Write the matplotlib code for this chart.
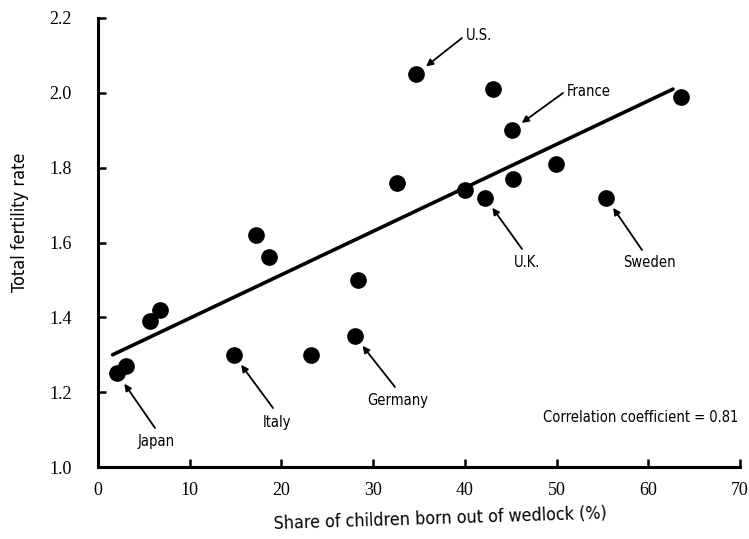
import matplotlib
matplotlib.use("Agg")
import matplotlib.pyplot as plt

# Data
share_out_of_wedlock = [2.1, 3.1, 5.7, 6.8, 14.8, 17.2, 18.6, 23.2, 28.0, 28.4,
                        32.6, 34.7, 40.0, 42.2, 43.1, 45.1, 45.3, 49.9, 55.4, 63.6]
fertility_rate = [1.25, 1.27, 1.39, 1.42, 1.30, 1.62, 1.56, 1.30, 1.35, 1.50,
                  1.76, 2.05, 1.74, 1.72, 2.01, 1.90, 1.77, 1.81, 1.72, 1.99]

fit_x = [1.6, 62.7]
fit_y = [1.30, 2.01]

labels = ["U.S.", "France", "U.K.", "Sweden", "Japan", "Italy", "Germany"]
label_point_x = [34.7, 45.1, 42.2, 55.4, 2.1, 14.8, 28.0]
label_point_y = [2.05, 1.90, 1.72, 1.72, 1.25, 1.30, 1.35]

xticks = [0, 10, 20, 30, 40, 50, 60, 70]
yticks = [1.0, 1.2, 1.4, 1.6, 1.8, 2.0, 2.2]

NARROW = ["DejaVu Sans", "Liberation Sans"]
SERIF = ["Liberation Serif", "DejaVu Serif"]

fig = plt.figure(figsize=(7.49, 5.39), dpi=100)
L, R, T, B = 98, 740, 18, 467
W, H = 749, 539
ax = fig.add_axes([L / W, 1 - B / H, (R - L) / W, (B - T) / H])

ax.set_xlim(0, 70)
ax.set_ylim(1.0, 2.2)

ax.plot(fit_x, fit_y, color="black", lw=2.6, solid_capstyle="round", zorder=2)
ax.plot(share_out_of_wedlock, fertility_rate, "o", color="black", ms=11, zorder=3)

for s in ["top", "right"]:
    ax.spines[s].set_visible(False)
for s in ["left", "bottom"]:
    ax.spines[s].set_linewidth(2.2)

ax.set_xticks(xticks)
ax.set_yticks(yticks)
ax.set_xticklabels([str(v) for v in xticks], fontfamily=SERIF, fontsize=13)
ax.set_yticklabels([f"{v:.1f}" for v in yticks], fontfamily=SERIF, fontsize=13)
ax.tick_params(axis="both", direction="in", length=6, width=1.8)
ax.tick_params(axis="y", pad=19)
ax.tick_params(axis="x", pad=11)

ax.set_xlabel("Share of children born out of wedlock (%)", fontfamily=NARROW,
              fontsize=12.8, fontstretch="condensed", va="center", rotation=1.8)
ax.xaxis.set_label_coords((440 - L) / (R - L), (B - 519) / (B - T))
ax.set_ylabel("Total fertility rate", fontfamily=NARROW, fontsize=13,
              fontstretch="condensed", va="center")
ax.yaxis.set_label_coords((20 - L) / (R - L), (B - 222) / (B - T))

def px2data(px, py):
    inv = ax.transData.inverted()
    return inv.transform((px, H - py))

fig.canvas.draw()
text_px = {
    "U.S.": (466, 36, "left", "center"),
    "France": (567, 91, "left", "center"),
    "U.K.": (527, 263, "center", "center"),
    "Sweden": (649, 263, "center", "center"),
    "Japan": (156, 441, "center", "center"),
    "Italy": (277, 422, "center", "center"),
    "Germany": (398, 400, "center", "center"),
}
arrow_start_px = {
    "U.S.": (462, 38),
    "France": (563, 93),
    "U.K.": (522, 249),
    "Sweden": (642, 250),
    "Japan": (155, 428),
    "Italy": (273, 408),
    "Germany": (395, 387),
}
for name, x0, y0 in zip(labels, label_point_x, label_point_y):
    tx, ty, ha, va = text_px[name]
    sx, sy = arrow_start_px[name]
    tpos = px2data(tx, ty)
    spos = px2data(sx, sy)
    ax.text(tpos[0], tpos[1], name, ha=ha, va=va, fontfamily=NARROW, fontsize=10.5,
            fontstretch="condensed")
    ax.annotate("", xy=(x0, y0), xytext=(spos[0], spos[1]),
                arrowprops=dict(arrowstyle="-|>", color="black", lw=1.3,
                                mutation_scale=10, shrinkA=0, shrinkB=9))

cpos = px2data(738, 417)
ax.text(cpos[0], cpos[1], "Correlation coefficient = 0.81", ha="right", va="center",
        fontfamily=NARROW, fontsize=10.5, fontstretch="condensed")

fig.savefig("out.png", dpi=100)
